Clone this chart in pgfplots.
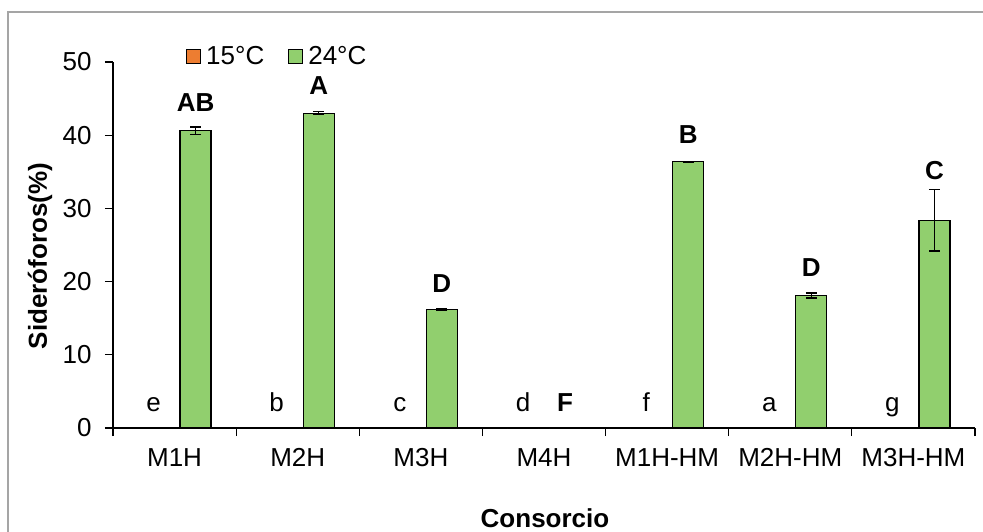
\documentclass[border=0pt]{standalone}
\usepackage{pgfplots}
\pgfplotsset{compat=1.18}
\usepackage{fontspec}
\setmainfont{Liberation Sans}

\definecolor{c15}{RGB}{237,125,49}
\definecolor{c24}{RGB}{145,207,110}
\definecolor{framegray}{RGB}{165,165,165}

% 15 °C: all consortia at zero
\pgfplotstableread{
x  y  e
0  0  0
1  0  0
2  0  0
3  0  0
4  0  0
5  0  0
6  0  0
}\tabA
% 24 °C
\pgfplotstableread{
x  y     e
0  40.6  0.5
1  43.0  0.2
2  16.2  0.15
3  0     0
4  36.4  0.05
5  18.1  0.35
6  28.4  4.2
}\tabB

\newcommand{\lbl}{\fontsize{26}{30}\selectfont}

\begin{document}
\begin{tikzpicture}[x=1pt,y=1pt]
\useasboundingbox (0,0) rectangle (983,531);
\draw[framegray, line width=1.2pt] (8,-20) -- (8,519) -- (1010,519);
\begin{axis}[
  at={(113pt,103pt)}, anchor=south west,
  scale only axis, width=862pt, height=366pt,
  ybar=11pt, bar width=31pt,
  ymin=0, ymax=50, ytick={0,10,...,50},
  xmin=-0.5, xmax=6.5,
  xtick={-0.5,0.5,...,6.5},
  x tick label as interval,
  xticklabels={M1H,M2H,M3H,M4H,M1H-HM,M2H-HM,M3H-HM},
  axis x line*=bottom, axis y line*=left,
  axis line style={line width=1.2pt, black},
  tick style={line width=1.2pt, black},
  tick align=outside, major tick length=8pt,
  ticklabel style={font=\lbl},
  /pgf/number format/assume math mode=true,
  xticklabel style={yshift=-9pt},
  yticklabel style={xshift=-10pt},
  legend style={at={(0.0847,1.048)}, anchor=north west, draw=none, fill=none,
    font=\lbl, legend columns=2, column sep=3pt, inner sep=0pt,
    /tikz/every even column/.append style={column sep=22pt}},
  legend image code/.code={\draw[#1, line width=1pt] (0pt,-7pt) rectangle (14pt,7pt);},
  error bars/y dir=both, error bars/y explicit,
  error bars/error bar style={line width=1.3pt, black},
  error bars/error mark options={rotate=90, mark size=5.5pt, line width=1.3pt, black},
  clip=false,
]
\addplot[fill=c15, draw=black, line width=1.2pt]
  table[x=x, y=y, y error=e] {\tabA};
\addlegendentry{15\textdegree C}
\addplot[fill=c24, draw=black, line width=1.2pt]
  table[x=x, y=y, y error=e] {\tabB};
\addlegendentry{24\textdegree C}

% letters for 15 °C
\foreach \xx/\tt in {0/e,1/b,2/c,3/d,4/f,5/a,6/g}{
  \edef\temp{\noexpand\node[anchor=base, font=\noexpand\lbl, xshift=-21pt, inner sep=0pt]
    at (axis cs:\xx,2.2) {\tt};}\temp
}
% letters for 24 °C
\foreach \xx/\yy/\tt in {0/43.3/AB,1/45.5/A,2/18.5/D,3/2.2/F,4/38.9/B,5/20.7/D,6/33.9/C}{
  \edef\temp{\noexpand\node[anchor=base, font=\noexpand\lbl\noexpand\bfseries, xshift=21pt, inner sep=0pt]
    at (axis cs:\xx,\yy) {\tt};}\temp
}
\end{axis}
\node[rotate=90, font=\lbl\bfseries, inner sep=0pt] at (40,275) {Sider\'oforos(\%)};
\node[anchor=base, font=\lbl\bfseries, inner sep=0pt] at (545,4) {Consorcio};
\end{tikzpicture}
\end{document}
